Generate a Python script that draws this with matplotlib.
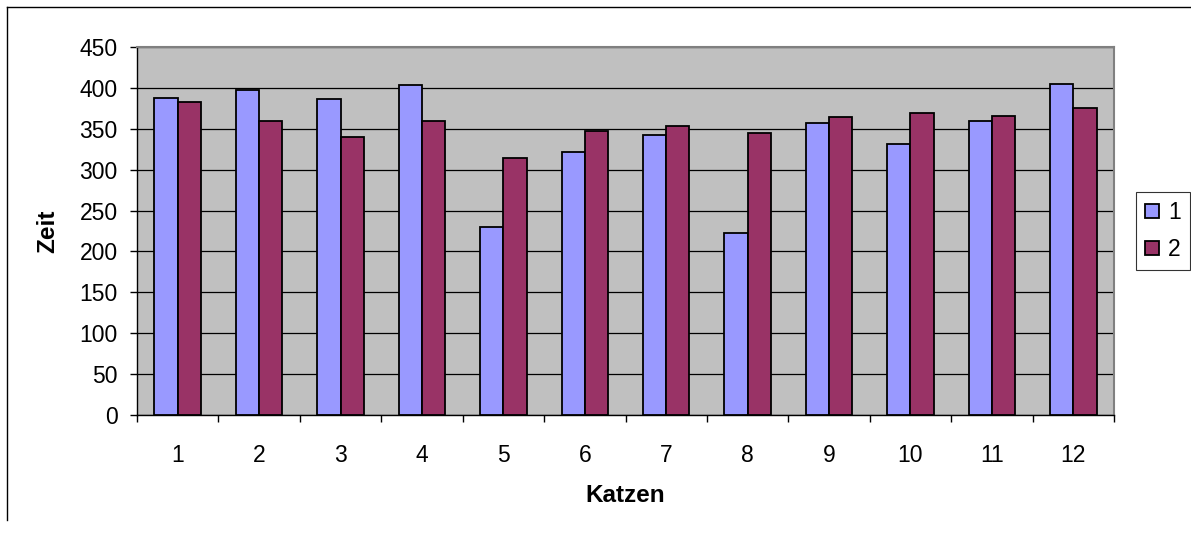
import numpy as np
import matplotlib.pyplot as plt
from matplotlib.lines import Line2D

plt.rcParams['font.family'] = ['Liberation Sans', 'DejaVu Sans']

katzen = [1, 2, 3, 4, 5, 6, 7, 8, 9, 10, 11, 12]
zeit_1 = [388, 398, 386, 403, 230, 321, 343, 223, 357, 331, 360, 405]
zeit_2 = [383, 360, 340, 360, 314, 347, 354, 345, 364, 369, 366, 376]
y_ticks = [0, 50, 100, 150, 200, 250, 300, 350, 400, 450]

W, H = 1191, 533
fig = plt.figure(figsize=(W / 100, H / 100), dpi=100)
ax = fig.add_axes([137 / W, 1 - 415 / H, (1114 - 137) / W, (415 - 47) / H])

x = np.arange(len(katzen))
w = 1 / 3.5
ax.bar(x - w / 2, zeit_1, w, color='#9999FF', edgecolor='black', linewidth=1.3, label='1', zorder=3)
ax.bar(x + w / 2, zeit_2, w, color='#993366', edgecolor='black', linewidth=1.3, label='2', zorder=3)

ax.set_facecolor('#C0C0C0')
ax.set_xlim(-0.5, len(katzen) - 0.5)
ax.set_ylim(0, 450)
ax.set_yticks(y_ticks)
ax.set_yticklabels([str(v) for v in y_ticks], fontsize=16.5)
ax.set_xticks(x)
ax.set_xticklabels([str(k) for k in katzen], fontsize=16.5)
ax.set_xticks(np.arange(-0.5, len(katzen)), minor=True)
ax.tick_params(axis='x', which='major', length=0, pad=21)
ax.tick_params(axis='x', which='minor', length=5, width=1, direction='out')
ax.tick_params(axis='y', length=5, width=1, direction='out', pad=9)
ax.yaxis.grid(True, color='black', linewidth=0.9, zorder=1)
ax.set_axisbelow(True)

for s in ['top', 'right']:
    ax.spines[s].set_color('#808080')
    ax.spines[s].set_linewidth(1.5)
for s in ['left', 'bottom']:
    ax.spines[s].set_color('black')
    ax.spines[s].set_linewidth(1)

fig.text(625 / W, 1 - 496 / H, 'Katzen', fontsize=17.5, fontweight='bold',
         ha='center', va='center')
fig.text(48 / W, 1 - 231 / H, 'Zeit', fontsize=17.5, fontweight='bold',
         ha='center', va='center', rotation=90)

leg = fig.legend(loc='center left', bbox_to_anchor=(1136 / W, 1 - 231 / H),
                 fontsize=16.5, frameon=True, fancybox=False, edgecolor='black',
                 handlelength=0.6, handleheight=0.6, handletextpad=0.4,
                 borderpad=0.4, labelspacing=0.6, borderaxespad=0)
leg.get_frame().set_linewidth(0.8)

# chart border
fig.add_artist(Line2D([7 / W, 1], [1 - 7 / H, 1 - 7 / H], color='black', linewidth=1))
fig.add_artist(Line2D([7 / W, 7 / W], [1 - 7 / H, 1 - 520 / H], color='black', linewidth=1))

fig.savefig('out.png', dpi=100)
